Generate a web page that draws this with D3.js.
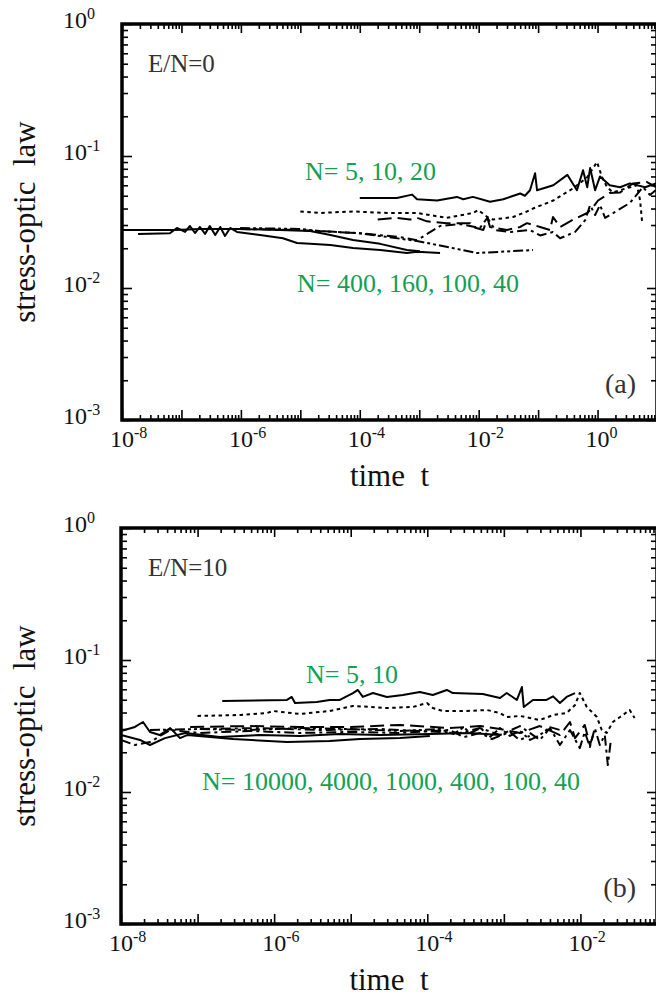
<!DOCTYPE html>
<html>
<head>
<meta charset="utf-8">
<script src="https://cdn.jsdelivr.net/npm/d3@7"></script>
<style>
  body { margin: 0; background: #fff; }
  svg { display: block; }
</style>
</head>
<body>
<div id="chart"></div>
<script>
// ---- panel (a): E/N = 0  -- [time t, stress-optic law]
const a_N5 = [[1.0e-4,0.048],[4.2e-4,0.048],[7.6e-4,0.051],[9.2e-4,0.047],[2.0e-3,0.046],[4.3e-3,0.049],[5.5e-3,0.047],[8.0e-3,0.049],[1.55e-2,0.045],[2.6e-2,0.047],[5.0e-2,0.052],[6.0e-2,0.050],[7.3e-2,0.055],[8.9e-2,0.074],[9.6e-2,0.055],[0.18,0.060],[0.31,0.072],[0.45,0.055],[0.57,0.078],[0.67,0.058],[0.75,0.081],[0.91,0.055],[1.1,0.070],[1.6,0.060],[2.4,0.058],[3.5,0.062],[6.3,0.058],[9.6,0.062]];
const a_N10 = [[1.0e-5,0.038],[2.1e-5,0.037],[7.7e-5,0.038],[2.9e-4,0.037],[9.2e-4,0.037],[2.9e-3,0.034],[8.0e-3,0.037],[9.8e-3,0.039],[1.4e-2,0.0345],[1.75e-2,0.033],[3.8e-2,0.0345],[6.5e-2,0.038],[8.2e-2,0.040],[0.18,0.046],[0.39,0.057],[0.67,0.069],[0.98,0.090],[1.19,0.069],[1.45,0.058],[1.8,0.053],[3.1,0.057],[4.6,0.060],[5.2,0.046],[5.6,0.032]];
const a_N20 = [[2.0e-4,0.033],[4.2e-4,0.034],[7.0e-4,0.033],[9.2e-4,0.034],[1.35e-3,0.032],[2.9e-3,0.031],[7.2e-3,0.031],[8.0e-3,0.029],[1.2e-2,0.0275],[1.4e-2,0.034],[1.55e-2,0.029],[3.0e-2,0.0275],[5.0e-2,0.029],[6.5e-2,0.031],[0.108,0.029],[0.158,0.0275],[0.178,0.0345],[0.234,0.029],[0.39,0.033],[0.67,0.037],[0.84,0.041],[1.02,0.046],[1.6,0.0525],[2.4,0.053],[3.95,0.062],[6.8,0.0635],[9.6,0.058]];
const a_N40 = [[9.7e-7,0.028],[1.0e-5,0.0275],[1.0e-4,0.026],[4.75e-4,0.0243],[9.2e-4,0.023],[2.24e-3,0.0295],[4.85e-3,0.0305],[1.05e-2,0.0285],[1.4e-2,0.034],[1.9e-2,0.0275],[3.4e-2,0.0266],[7.3e-2,0.0275],[0.108,0.025],[0.178,0.0266],[0.234,0.0238],[0.42,0.0266],[0.62,0.0327],[0.75,0.0425],[0.91,0.0357],[1.1,0.0425],[1.34,0.034],[1.97,0.0377],[3.5,0.0441],[5.8,0.0582],[7.6,0.0507],[9.6,0.0553]];
const a_N100 = [[9.7e-7,0.0285],[1.0e-5,0.028],[2.1e-5,0.027],[1.0e-4,0.026],[9.2e-4,0.0227],[2.24e-3,0.021],[9.4e-3,0.0184],[2.3e-2,0.0188],[8.2e-2,0.0194]];
const a_N160 = [[1.86e-8,0.0257],[6.4e-8,0.026],[8.4e-8,0.0285],[1.15e-7,0.0266],[1.39e-7,0.0295],[1.69e-7,0.0261],[2.05e-7,0.029],[2.49e-7,0.0257],[3.0e-7,0.0295],[3.7e-7,0.0252],[4.5e-7,0.029],[5.4e-7,0.0248],[6.6e-7,0.0285],[8.6e-7,0.0266],[2.1e-6,0.0252],[5.1e-6,0.0238],[8.8e-6,0.0219],[1.46e-5,0.0216],[3.2e-5,0.0212],[7.7e-5,0.0201],[2.2e-4,0.0194],[6.2e-4,0.0184],[9.2e-4,0.0188],[2.24e-3,0.0184]];
const a_N400 = [[1.0e-8,0.0275],[7.8e-8,0.0275],[2.05e-7,0.028],[9.7e-7,0.028],[4.5e-6,0.0275],[1.46e-5,0.027],[3.2e-5,0.0252],[7.7e-5,0.0231],[2.2e-4,0.0216],[6.2e-4,0.0194],[1.03e-3,0.019]];

// ---- panel (b): E/N = 10
const b_N5 = [[2.1e-7,0.049],[1.47e-6,0.0498],[1.7e-6,0.0525],[1.87e-6,0.0472],[3.6e-6,0.0481],[5.3e-6,0.0498],[7.2e-6,0.0498],[1.07e-5,0.0562],[1.24e-5,0.0593],[1.44e-5,0.0525],[1.95e-5,0.0562],[2.97e-5,0.0525],[4.8e-5,0.0543],[8.0e-5,0.0573],[1.18e-4,0.0543],[1.8e-4,0.0593],[2.16e-4,0.0562],[5.3e-4,0.0553],[8.9e-4,0.0515],[1.09e-3,0.0562],[1.48e-3,0.0498],[1.72e-3,0.0624],[1.82e-3,0.0441],[2.4e-3,0.0498],[3.6e-3,0.0498],[4.4e-3,0.053],[5.4e-3,0.0472],[6.6e-3,0.0525],[8.5e-3,0.0562]];
const b_N10 = [[1.0e-7,0.0377],[3.6e-7,0.0383],[8.1e-7,0.0397],[9.6e-7,0.0411],[2.17e-6,0.039],[5.3e-6,0.0411],[1.07e-5,0.0449],[2.97e-5,0.0433],[6.5e-5,0.0441],[9.9e-5,0.0472],[1.18e-4,0.0433],[1.6e-4,0.0411],[3.3e-4,0.0411],[6.0e-4,0.0418],[8.9e-4,0.0397],[1.09e-3,0.037],[1.62e-3,0.0377],[2.95e-3,0.0351],[4.4e-3,0.0383],[6.6e-3,0.0397],[8.5e-3,0.0456],[9.8e-3,0.0562],[1.21e-2,0.0441],[1.64e-2,0.037],[1.9e-2,0.0295],[2.2e-2,0.028],[2.65e-2,0.0339],[3.3e-2,0.037],[4.4e-2,0.0418],[5.1e-2,0.0364]];
const b_N40 = [[1.07e-7,0.030],[6.5e-7,0.0305],[3.96e-6,0.0295],[2.4e-5,0.030],[8.0e-5,0.029],[2.67e-4,0.028],[4.9e-4,0.0305],[8.9e-4,0.027],[1.62e-3,0.0316],[2.95e-3,0.0248],[4.0e-3,0.0305],[5.4e-3,0.0227],[7.3e-3,0.0295],[9.8e-3,0.0215],[1.14e-2,0.0285],[1.33e-2,0.0219],[1.54e-2,0.0305],[1.79e-2,0.0227],[2.08e-2,0.027],[2.28e-2,0.016],[2.5e-2,0.0248]];
const b_N100 = [[8.0e-8,0.0311],[4.8e-7,0.0316],[2.17e-6,0.0311],[9.8e-6,0.0311],[4.4e-5,0.0322],[1.97e-4,0.0305],[4.9e-4,0.0316],[8.9e-4,0.030],[1.62e-3,0.028],[2.95e-3,0.0316],[5.4e-3,0.027],[7.3e-3,0.0339],[8.5e-3,0.0256],[1.14e-2,0.0322],[1.33e-2,0.0227],[1.54e-2,0.0295]];
const b_N400 = [[2.39e-8,0.0295],[1.07e-7,0.030],[4.8e-7,0.0295],[2.17e-6,0.0305],[9.8e-6,0.030],[4.4e-5,0.029],[1.46e-4,0.030],[2.2e-4,0.0275],[3.0e-4,0.031],[3.6e-4,0.028],[5.0e-4,0.0305],[6.5e-4,0.026],[8.9e-4,0.0305],[1.2e-3,0.0266],[1.62e-3,0.029],[2.2e-3,0.0248],[2.95e-3,0.027],[4.0e-3,0.031],[5.4e-3,0.0295]];
const b_N1000 = [[1.0e-8,0.0248],[1.52e-8,0.0227],[2.39e-8,0.0239],[4.4e-8,0.0295],[1.07e-7,0.028],[4.8e-7,0.029],[2.17e-6,0.028],[9.8e-6,0.0285],[4.4e-5,0.028],[1.97e-4,0.0295],[3.0e-4,0.026],[4.9e-4,0.028],[7.0e-4,0.0252],[1.2e-3,0.0285],[1.6e-3,0.0248],[2.18e-3,0.0266]];
const b_N4000 = [[1.0e-8,0.027],[1.77e-8,0.0248],[2.39e-8,0.0227],[3.75e-8,0.0256],[6.9e-8,0.028],[1.96e-7,0.0261],[6.5e-7,0.027],[2.17e-6,0.0266],[7.2e-6,0.0275],[2.4e-5,0.027],[1.08e-4,0.0275],[3.6e-4,0.028],[8.9e-4,0.027]];
const b_N10000 = [[1.0e-8,0.029],[1.52e-8,0.0311],[1.94e-8,0.0339],[2.39e-8,0.0285],[3.2e-8,0.027],[4.4e-8,0.0305],[5.9e-8,0.0256],[7.3e-8,0.027],[2.9e-7,0.0252],[1.47e-6,0.0239],[5.3e-6,0.0243],[1.32e-5,0.0252],[4.4e-5,0.0256],[1.08e-4,0.0266]];

// ---- axes / labels
const xDomainA = [1e-8, 1e1];
const xDomainB = [1e-8, 1e-1];
const yDomain = [1e-3, 1e0];
const xLabelExpA = [-8, -6, -4, -2, 0];
const xLabelExpB = [-8, -6, -4, -2];
const yLabelExp = [0, -1, -2, -3];
const annotA = ["E/N=0", "(a)", "N= 5, 10, 20", "N= 400, 160, 100, 40"];
const annotB = ["E/N=10", "(b)", "N= 5, 10", "N= 10000, 4000, 1000, 400, 100, 40"];

const DASH = {
  solid: null,
  dot: "3.5,3.5",
  dash: "14,6",
  dashdot: "10,4,3,4",
  dashdotdot: "10,3,3,3,3,3"
};
const GREEN = "#13a052";
const FONT = "Times New Roman, Times, Liberation Serif, Tinos, Nimbus Roman, FreeSerif, Noto Serif, DejaVu Serif, serif";

const W = 656, H = 1002;
const svg = d3.select("#chart").append("svg").attr("width", W).attr("height", H)
  .style("font-family", FONT);

function minorTicks(domain) {
  const out = [];
  const lo = Math.round(Math.log10(domain[0])), hi = Math.round(Math.log10(domain[1]));
  for (let e = lo; e < hi; e++) for (let k = 2; k <= 9; k++) out.push(k * Math.pow(10, e));
  return out;
}
function majorTicks(domain) {
  const out = [];
  const lo = Math.round(Math.log10(domain[0])), hi = Math.round(Math.log10(domain[1]));
  for (let e = lo; e <= hi; e++) out.push(Math.pow(10, e));
  return out;
}

function drawPanel(p) {
  const x = d3.scaleLog().domain(p.xDomain).range([p.left, p.right]);
  const y = d3.scaleLog().domain(yDomain).range([p.bottom, p.top]);
  const g = svg.append("g");
  const clipId = "clip" + p.id;
  g.append("clipPath").attr("id", clipId).append("rect")
    .attr("x", p.left).attr("y", p.top).attr("width", p.right - p.left).attr("height", p.bottom - p.top);

  const line = d3.line().x(d => x(d[0])).y(d => y(d[1]));
  const lines = g.append("g").attr("clip-path", `url(#${clipId})`);
  p.series.forEach(s => {
    lines.append("path").datum(s.data)
      .attr("d", line)
      .attr("fill", "none")
      .attr("stroke", "#000")
      .attr("stroke-width", 2)
      .attr("stroke-linejoin", "round")
      .attr("stroke-dasharray", DASH[s.style]);
  });

  // ticks (inward on all four sides)
  const tickAxis = (axisFn, scale, vals, size, tr) => {
    g.append("g").attr("transform", tr)
      .call(axisFn(scale).tickValues(vals).tickSize(size).tickFormat(""))
      .call(a => a.select(".domain").remove())
      .call(a => a.selectAll("line").attr("stroke", "#000").attr("stroke-width", 1.6));
  };
  const xMaj = majorTicks(p.xDomain), xMin = minorTicks(p.xDomain);
  const yMaj = majorTicks(yDomain), yMin = minorTicks(yDomain);
  tickAxis(d3.axisBottom, x, xMaj, -10, `translate(0,${p.bottom})`);
  tickAxis(d3.axisBottom, x, xMin, -5, `translate(0,${p.bottom})`);
  tickAxis(d3.axisTop, x, xMaj, -9, `translate(0,${p.top})`);
  tickAxis(d3.axisTop, x, xMin, -5, `translate(0,${p.top})`);
  tickAxis(d3.axisLeft, y, yMaj, -10, `translate(${p.left},0)`);
  tickAxis(d3.axisLeft, y, yMin, -6, `translate(${p.left},0)`);
  tickAxis(d3.axisRight, y, yMaj, -10, `translate(${p.right},0)`);
  tickAxis(d3.axisRight, y, yMin, -6, `translate(${p.right},0)`);

  g.append("rect").attr("x", p.left).attr("y", p.top)
    .attr("width", p.right - p.left).attr("height", p.bottom - p.top)
    .attr("fill", "none").attr("stroke", "#000").attr("stroke-width", 3.5);

  // tick labels
  p.xLabelExp.forEach(e => {
    const t = g.append("text").attr("x", x(Math.pow(10, e)) - 12).attr("y", p.bottom + 27)
      .attr("font-size", 24).attr("fill", "#111");
    t.append("tspan").text("10");
    t.append("tspan").attr("dy", -9).attr("font-size", 16).text(e);
  });
  yLabelExp.forEach(e => {
    const t = g.append("text").attr("x", 63).attr("y", y(Math.pow(10, e)) + 4)
      .attr("font-size", 24).attr("fill", "#111");
    t.append("tspan").text("10");
    t.append("tspan").attr("dy", -9).attr("font-size", 16).text(e);
  });

  // axis titles
  g.append("text").attr("x", (p.left + p.right) / 2).attr("y", p.bottom + 66)
    .attr("text-anchor", "middle").attr("font-size", 31).attr("fill", "#111")
    .text("time\u00a0\u00a0t");
  g.append("text").attr("transform", `translate(35,${(p.top + p.bottom) / 2}) rotate(-90)`)
    .attr("text-anchor", "middle").attr("font-size", 31).attr("fill", "#111")
    .text("stress-optic\u00a0\u00a0law");

  // annotations
  const ann = p.annot;
  g.append("text").attr("x", 148).attr("y", p.top + 48).attr("font-size", 25).attr("fill", "#333").text(ann[0]);
  g.append("text").attr("x", 636).attr("y", p.bottom - 27).attr("text-anchor", "end")
    .attr("font-size", 28).attr("fill", "#333").text(ann[1]);
  g.append("text").attr("x", p.upX).attr("y", p.upY).attr("font-size", 26).attr("fill", GREEN).text(ann[2]);
  g.append("text").attr("x", p.loX).attr("y", p.loY).attr("font-size", 26).attr("fill", GREEN).text(ann[3]);
}

drawPanel({
  id: "a", top: 24, bottom: 420, left: 122, right: 657,
  xDomain: xDomainA, xLabelExp: xLabelExpA, annot: annotA,
  upX: 305, upY: 180, loX: 297, loY: 292,
  series: [
    { data: a_N400, style: "solid" },
    { data: a_N160, style: "solid" },
    { data: a_N100, style: "dashdotdot" },
    { data: a_N40, style: "dashdot" },
    { data: a_N20, style: "dash" },
    { data: a_N10, style: "dot" },
    { data: a_N5, style: "solid" }
  ]
});

drawPanel({
  id: "b", top: 528, bottom: 924, left: 121, right: 657,
  xDomain: xDomainB, xLabelExp: xLabelExpB, annot: annotB,
  upX: 306, upY: 683, loX: 202, loY: 790,
  series: [
    { data: b_N10000, style: "solid" },
    { data: b_N4000, style: "solid" },
    { data: b_N1000, style: "dashdot" },
    { data: b_N400, style: "dashdotdot" },
    { data: b_N100, style: "dash" },
    { data: b_N40, style: "dashdot" },
    { data: b_N10, style: "dot" },
    { data: b_N5, style: "solid" }
  ]
});
</script>
</body>
</html>
